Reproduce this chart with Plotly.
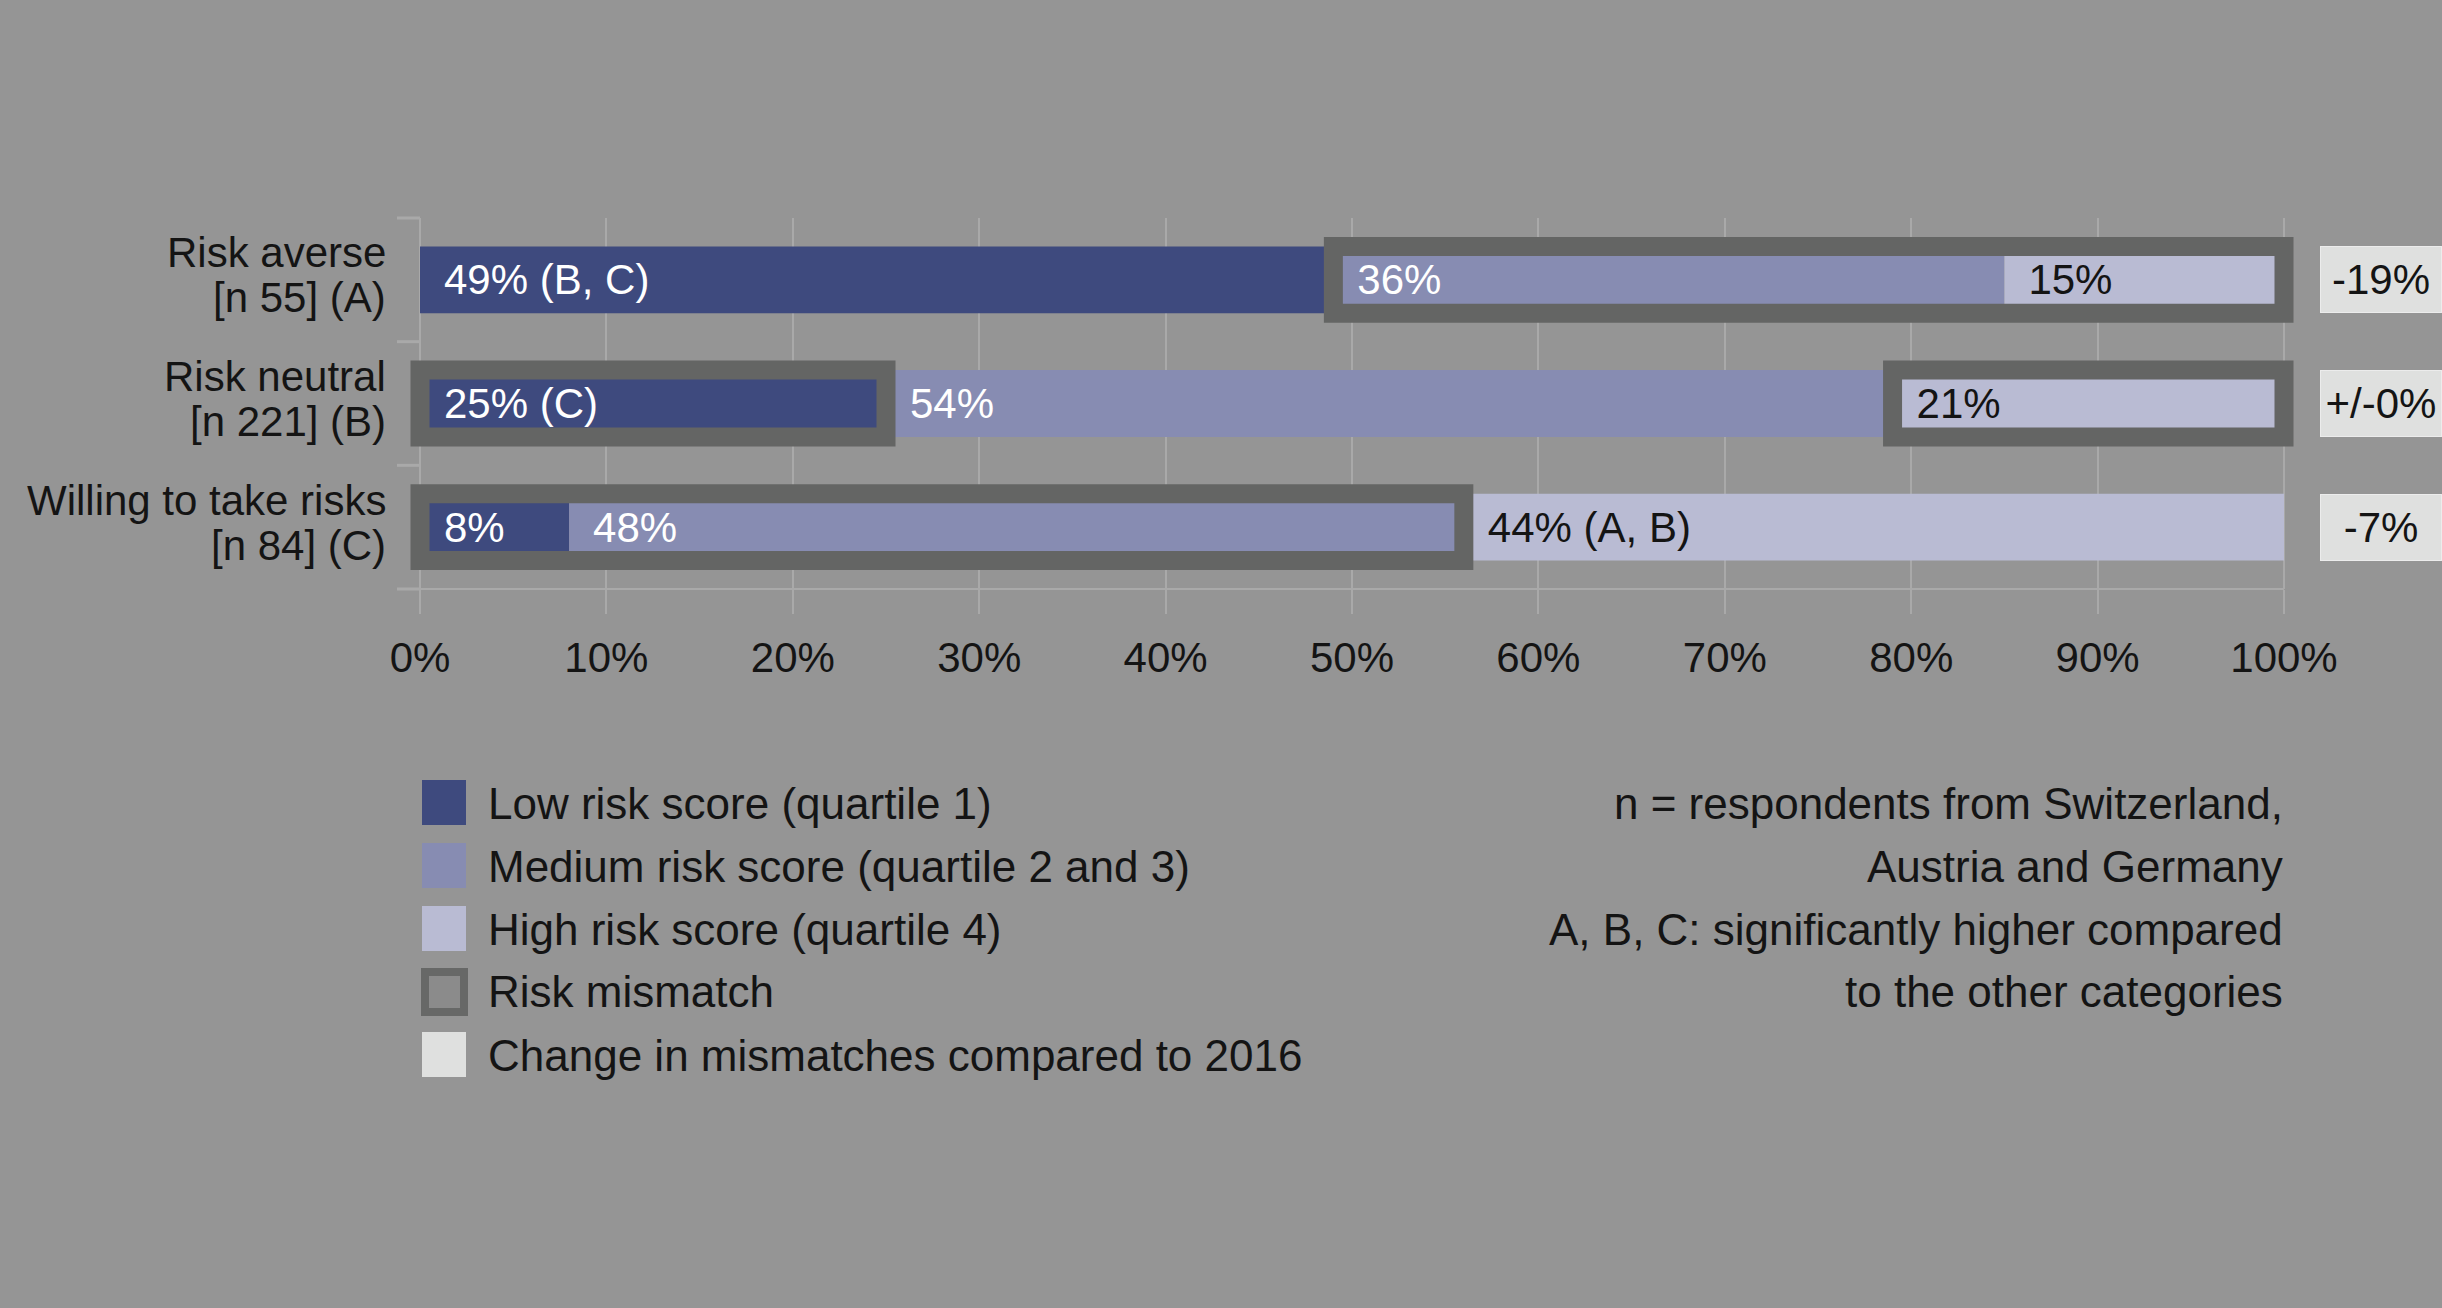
import plotly.graph_objects as go

categories = ["Risk averse", "Risk neutral", "Willing to take risks"]
category_sub = ["[n 55] (A)", "[n 221] (B)", "[n 84] (C)"]
low = [49, 25, 8]
medium = [36, 54, 48]
high = [15, 21, 44]
low_text = ["49% (B, C)", "25% (C)", "8%"]
medium_text = ["36%", "54%", "48%"]
high_text = ["15%", "21%", "44% (A, B)"]
# which of low / medium / high is a risk mismatch, per row
mismatch = [[False, True, True], [True, False, True], [True, True, False]]
change = ["-19%", "+/-0%", "-7%"]
tick_vals = list(range(0, 101, 10))
tick_text = [f"{v}%" for v in tick_vals]
legend_labels = [
    "Low risk score (quartile 1)",
    "Medium risk score (quartile 2 and 3)",
    "High risk score (quartile 4)",
    "Risk mismatch",
    "Change in mismatches compared to 2016",
]
note_lines = [
    "n = respondents from Switzerland,",
    "Austria and Germany",
    "A, B, C: significantly higher compared",
    "to the other categories",
]

BG = "#959595"
C_LOW = "#3e4a7e"
C_MED = "#878cb2"
C_HIGH = "#b9bbd3"
C_FRAME = "#646564"
C_CHANGE = "#dfe0df"
C_GRID = "#a9a9a9"
C_TEXT = "#141414"
FONT = "Liberation Sans, Arial, sans-serif"

W, H = 2442, 1308
X0, X100 = 420, 2284          # pixel position of 0% and 100%
L, R, T, B = 409, 2295, 218, 589   # plot area, a bit wider so frames are not clipped
UNIT = (X100 - X0) / 100
BAR_W = 0.54
PAD = "\u2002"


def px_x(p):
    return (p - L) / (R - L)


def px_y(p):
    return (B - p) / (B - T)


base_med = low
base_high = [a + b for a, b in zip(low, medium)]

fig = go.Figure()
segments = [
    (low, [0, 0, 0], low_text, C_LOW, "white"),
    (medium, base_med, medium_text, C_MED, "white"),
    (high, base_high, high_text, C_HIGH, C_TEXT),
]
for vals, base, txt, col, tcol in segments:
    fig.add_trace(go.Bar(
        y=categories, x=vals, base=base, orientation="h", width=BAR_W,
        marker=dict(color=col, line=dict(width=0)),
        text=[PAD + t for t in txt], textposition="inside",
        insidetextanchor="start", constraintext="none",
        textfont=dict(family=FONT, size=42, color=tcol),
        hoverinfo="skip", showlegend=False,
    ))

# mismatch frames: contiguous runs of mismatched segments
fy, fx, fbase = [], [], []
for i, cat in enumerate(categories):
    starts = [0, base_med[i], base_high[i]]
    sizes = [low[i], medium[i], high[i]]
    run = None
    for j in range(3):
        if mismatch[i][j]:
            if run is None:
                run = [starts[j], 0]
            run[1] += sizes[j]
        elif run is not None:
            fy.append(cat); fbase.append(run[0]); fx.append(run[1]); run = None
    if run is not None:
        fy.append(cat); fbase.append(run[0]); fx.append(run[1])

fig.add_trace(go.Bar(
    y=fy, x=fx, base=fbase, orientation="h", width=BAR_W,
    marker=dict(color="rgba(0,0,0,0)", line=dict(color=C_FRAME, width=19)),
    hoverinfo="skip", showlegend=False,
))

annotations = []
# two-line category labels, tighter than plotly's own line height
for cat, sub in zip(categories, category_sub):
    for txt, shift in ((cat, 27), (sub, -18)):
        annotations.append(dict(
            xref="paper", x=px_x(388), xanchor="right", yref="y", y=cat, yshift=shift,
            text=txt, showarrow=False, font=dict(family=FONT, size=42, color=C_TEXT),
        ))

for cat, c in zip(categories, change):
    annotations.append(dict(
        xref="paper", x=px_x(X100), xanchor="left", xshift=36, yref="y", y=cat,
        text=c, showarrow=False, width=120, height=65, align="center",
        bgcolor=C_CHANGE, bordercolor="#ececec", borderwidth=1, borderpad=0,
        font=dict(family=FONT, size=42, color=C_TEXT),
    ))

# bottom axis line, from the left tick to 100%
shapes = [dict(type="line", xref="paper", yref="paper", x0=px_x(397), x1=px_x(X100), y0=0, y1=0,
               line=dict(color=C_GRID, width=2))]
# short ticks between the categories on the left
for k in range(len(categories) + 1):
    shapes.append(dict(type="line", xref="paper", yref="paper",
                       x0=px_x(397), x1=px_x(X0), y0=k / len(categories), y1=k / len(categories),
                       line=dict(color=C_GRID, width=3)))

rows = [803, 866, 929, 992, 1055]
swatch = [C_LOW, C_MED, C_HIGH, None, C_CHANGE]
for yy, col, lab in zip(rows, swatch, legend_labels):
    if col is None:
        shapes.append(dict(type="rect", xref="paper", yref="paper",
                           x0=px_x(425), x1=px_x(464), y0=px_y(yy - 20), y1=px_y(yy + 20),
                           fillcolor="#8b8b8b", line=dict(color="#676867", width=8)))
    else:
        shapes.append(dict(type="rect", xref="paper", yref="paper",
                           x0=px_x(422), x1=px_x(466), y0=px_y(yy - 23), y1=px_y(yy + 22),
                           fillcolor=col, line=dict(width=0)))
    annotations.append(dict(
        xref="paper", yref="paper", x=px_x(486), y=px_y(yy), xanchor="left", yanchor="middle",
        text=lab, showarrow=False, font=dict(family=FONT, size=44, color=C_TEXT),
    ))
for yy, line in zip(rows, note_lines):
    annotations.append(dict(
        xref="paper", yref="paper", x=px_x(X100 + 1), y=px_y(yy), xanchor="right", yanchor="middle",
        text=line, showarrow=False, font=dict(family=FONT, size=44, color=C_TEXT),
    ))

fig.update_layout(
    template="none",
    width=W, height=H,
    margin=dict(l=L, r=W - R, t=T, b=H - B, pad=0),
    paper_bgcolor=BG, plot_bgcolor=BG,
    barmode="overlay",
    showlegend=False,
    font=dict(family=FONT, size=42, color=C_TEXT),
    xaxis=dict(
        range=[-(X0 - L) / UNIT, 100 + (R - X100) / UNIT],
        tickvals=tick_vals, ticktext=tick_text,
        showgrid=True, gridcolor=C_GRID, gridwidth=2, zeroline=False, showline=False,
        ticks="outside", ticklen=24, tickwidth=2, tickcolor=C_GRID,
        ticklabelstandoff=8, tickfont=dict(family=FONT, size=42, color=C_TEXT),
    ),
    yaxis=dict(
        type="category", categoryorder="array", categoryarray=categories,
        autorange="reversed", showgrid=False, zeroline=False, showline=False,
        ticks="", showticklabels=False,
    ),
    shapes=shapes,
    annotations=annotations,
)

fig.write_html(
    "out.html",
    config={"displayModeBar": False},
    post_script="document.body.style.margin='0';document.body.style.overflow='hidden';",
)
